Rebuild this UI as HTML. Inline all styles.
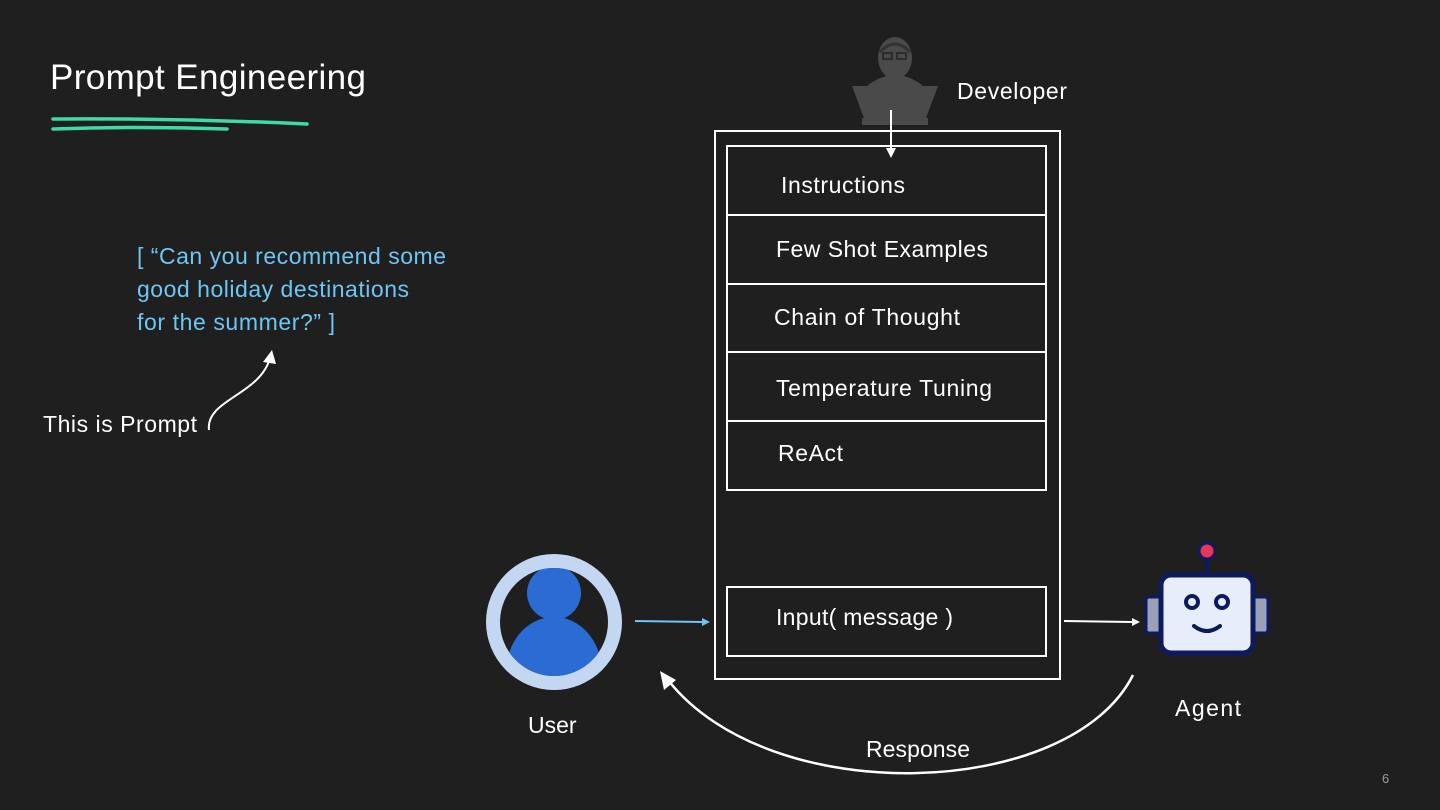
<!DOCTYPE html>
<html><head><meta charset="utf-8"><style>
html,body{margin:0;padding:0;background:#1f1f1f;}
svg{display:block}
text{font-family:"Liberation Sans",sans-serif;}
</style></head><body>
<svg width="1440" height="810" viewBox="0 0 1440 810" xmlns="http://www.w3.org/2000/svg">
<rect width="1440" height="810" fill="#1f1f1f"/>
<text x="50" y="89" font-size="35" fill="#fff" textLength="316">Prompt Engineering</text>
<path d="M53 119 Q180 118 307 124" stroke="#3ddba6" stroke-width="3.5" fill="none" stroke-linecap="round"/>
<path d="M53 129 Q140 126 227 129" stroke="#3ddba6" stroke-width="3.5" fill="none" stroke-linecap="round"/>
<g font-size="23" fill="#6ec6f2">
<text x="137" y="264" textLength="309">[ “Can you recommend some</text>
<text x="137" y="297" textLength="272">good holiday destinations</text>
<text x="137" y="330" textLength="198">for the summer?” ]</text>
</g>
<text x="43" y="432" font-size="23" fill="#fff" textLength="154">This is Prompt</text>
<path d="M209 430 C205 400 260 395 270 358" stroke="#fff" stroke-width="2" fill="none"/>
<polygon points="272,350 263,362 276,364" fill="#fff"/>
<!-- developer -->
<g fill="#4a4a4a">
<ellipse cx="895" cy="58" rx="17" ry="21"/>
<path d="M868 85 Q895 65 922 85 L922 95 L868 95Z"/>
<path d="M852 86 L938 86 L926 118 L864 118Z"/>
<rect x="862" y="118" width="66" height="7"/>
</g>
<path d="M880 52 Q895 36 910 52" stroke="#333" stroke-width="3" fill="none"/>
<rect x="883" y="53" width="9" height="6" fill="none" stroke="#222" stroke-width="1.5"/>
<rect x="897" y="53" width="9" height="6" fill="none" stroke="#222" stroke-width="1.5"/>
<text x="957" y="99" font-size="23" fill="#fff" textLength="110">Developer</text>
<!-- container -->
<rect x="715" y="131" width="345" height="548" fill="none" stroke="#fff" stroke-width="2"/>
<g fill="none" stroke="#fff" stroke-width="2">
<rect x="727" y="146" width="319" height="69"/>
<rect x="727" y="215" width="319" height="69"/>
<rect x="727" y="284" width="319" height="68"/>
<rect x="727" y="352" width="319" height="69"/>
<rect x="727" y="421" width="319" height="69"/>
<rect x="727" y="587" width="319" height="69"/>
</g>
<line x1="891" y1="110" x2="891" y2="150" stroke="#fff" stroke-width="2"/>
<polygon points="886,148 896,148 891,158" fill="#fff"/>
<g font-size="23" fill="#fff">
<text x="781" y="193" textLength="124">Instructions</text>
<text x="776" y="257" textLength="212">Few Shot Examples</text>
<text x="774" y="325" textLength="186">Chain of Thought</text>
<text x="776" y="396" textLength="216">Temperature Tuning</text>
<text x="778" y="461" textLength="65">ReAct</text>
<text x="776" y="625" textLength="177">Input( message )</text>
</g>
<!-- user -->
<circle cx="554" cy="622" r="68" fill="#c4d7f2"/>
<circle cx="554" cy="622" r="54" fill="#1f1f1f"/>
<clipPath id="uc"><circle cx="554" cy="622" r="54"/></clipPath>
<g clip-path="url(#uc)" fill="#2b6cd4">
<circle cx="554" cy="593" r="27"/>
<ellipse cx="554" cy="672" rx="48" ry="55"/>
</g>
<text x="528" y="733" font-size="23" fill="#fff">User</text>
<line x1="635" y1="621" x2="702" y2="622" stroke="#6ec6f2" stroke-width="2"/>
<polygon points="702,618 710,622 702,626" fill="#6ec6f2"/>
<line x1="1064" y1="621" x2="1132" y2="622" stroke="#fff" stroke-width="2"/>
<polygon points="1132,618 1140,622 1132,626" fill="#fff"/>
<!-- robot -->
<line x1="1207" y1="552" x2="1207" y2="576" stroke="#0d1a5e" stroke-width="4"/>
<circle cx="1207" cy="551" r="8" fill="#e8365a" stroke="#0d1a5e" stroke-width="3"/>
<rect x="1146" y="597" width="18" height="36" rx="3" fill="#9aa0b8" stroke="#0d1a5e" stroke-width="3"/>
<rect x="1250" y="597" width="18" height="36" rx="3" fill="#9aa0b8" stroke="#0d1a5e" stroke-width="3"/>
<rect x="1161" y="575" width="92" height="78" rx="10" fill="#e8eef9" stroke="#0d1a5e" stroke-width="5"/>
<circle cx="1192" cy="602" r="6" fill="none" stroke="#0d1a5e" stroke-width="4"/>
<circle cx="1222" cy="602" r="6" fill="none" stroke="#0d1a5e" stroke-width="4"/>
<path d="M1194 626 Q1207 636 1220 626" stroke="#0d1a5e" stroke-width="4" fill="none" stroke-linecap="round"/>
<text x="1175" y="716" font-size="23" fill="#fff" textLength="66">Agent</text>
<!-- response -->
<path d="M1133 675 C1070 800 770 810 668 680" stroke="#fff" stroke-width="2.5" fill="none"/>
<polygon points="660,671 664,690 676,680" fill="#fff"/>
<text x="866" y="757" font-size="23" fill="#fff" textLength="104">Response</text>
<text x="1382" y="783" font-size="13" fill="#9a9a9a">6</text>
</svg>
</body></html>
